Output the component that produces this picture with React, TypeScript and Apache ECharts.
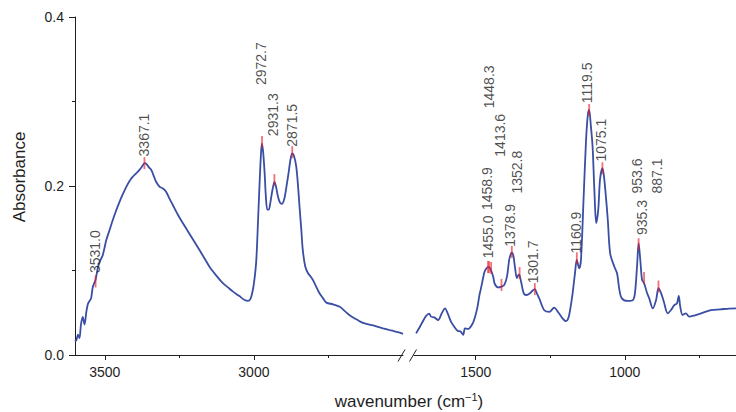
import React, { useEffect, useRef } from "react";
import * as echarts from "echarts";

// ---- spectrum data (wavenumber cm-1, absorbance) ----
const leftWn = [3600, 3595, 3590, 3585, 3580, 3574, 3568, 3562, 3557, 3551, 3546, 3540, 3531, 3523, 3515, 3507, 3495, 3484, 3473, 3462, 3451, 3440, 3428, 3417, 3406, 3395, 3384, 3375, 3367, 3360, 3352, 3344, 3336, 3328, 3316, 3305, 3294, 3283, 3272, 3255, 3238, 3210, 3182, 3165, 3149, 3126, 3104, 3087, 3070, 3050, 3031, 3020, 3012, 3004, 2998, 2992, 2986, 2981, 2976, 2973, 2969, 2964, 2960, 2955, 2950, 2945, 2938, 2931, 2925, 2919, 2912, 2906, 2898, 2891, 2884, 2877, 2871.5, 2866, 2858, 2852, 2847, 2841, 2836, 2828, 2819, 2810, 2802, 2790, 2780, 2768, 2757, 2735, 2712, 2695, 2679, 2655, 2634, 2600, 2567, 2540, 2511, 2500];
const leftAbs = [0.016, 0.018, 0.024, 0.02, 0.036, 0.045, 0.036, 0.051, 0.06, 0.064, 0.067, 0.081, 0.089, 0.104, 0.112, 0.118, 0.136, 0.148, 0.16, 0.171, 0.181, 0.19, 0.199, 0.206, 0.211, 0.215, 0.219, 0.223, 0.227, 0.226, 0.222, 0.219, 0.212, 0.205, 0.199, 0.197, 0.193, 0.185, 0.1775, 0.166, 0.156, 0.14, 0.124, 0.114, 0.1045, 0.094, 0.085, 0.08, 0.075, 0.07, 0.065, 0.064, 0.066, 0.076, 0.09, 0.112, 0.16, 0.203, 0.24, 0.25, 0.24, 0.215, 0.188, 0.172, 0.172, 0.18, 0.195, 0.205, 0.198, 0.187, 0.18, 0.179, 0.185, 0.199, 0.215, 0.232, 0.2385, 0.236, 0.223, 0.2, 0.1755, 0.148, 0.124, 0.105, 0.097, 0.093, 0.0888, 0.08, 0.073, 0.067, 0.062, 0.06, 0.057, 0.052, 0.047, 0.042, 0.038, 0.035, 0.0316, 0.029, 0.0264, 0.025];

const rightWn = [1700, 1690, 1678, 1667, 1656, 1650, 1639, 1626, 1614, 1603, 1594, 1583, 1572, 1561, 1550, 1542, 1536, 1525, 1510, 1502, 1494, 1488, 1483, 1477, 1471, 1465, 1459, 1455, 1451, 1446, 1441, 1436, 1424, 1413.6, 1404, 1395, 1388, 1383, 1379, 1374, 1368, 1362, 1356, 1352.8, 1348, 1339, 1330, 1318, 1310, 1301.7, 1295, 1287, 1270, 1253, 1237, 1222, 1210, 1197, 1190, 1184, 1175, 1167, 1161, 1153, 1147, 1138, 1130, 1124, 1119.5, 1114, 1108, 1102, 1096, 1089, 1083, 1075, 1070, 1064, 1057, 1049, 1035, 1026, 1018, 1010, 990, 973, 966, 959, 953.6, 948, 942, 935.3, 925, 918, 906, 895, 887.1, 878, 869, 856, 845, 834, 825, 819, 814, 806, 795, 784, 765, 744, 711, 680, 650, 627];
const rightAbs = [0.0256, 0.0316, 0.0394, 0.046, 0.049, 0.0454, 0.0446, 0.0414, 0.0493, 0.0552, 0.0493, 0.0394, 0.0335, 0.0288, 0.0276, 0.0237, 0.0316, 0.0308, 0.0375, 0.0454, 0.057, 0.07, 0.078, 0.088, 0.098, 0.102, 0.104, 0.104, 0.102, 0.098, 0.092, 0.084, 0.08, 0.081, 0.083, 0.093, 0.112, 0.119, 0.121, 0.118, 0.103, 0.091, 0.095, 0.094, 0.087, 0.073, 0.071, 0.073, 0.076, 0.078, 0.073, 0.067, 0.053, 0.051, 0.056, 0.05, 0.044, 0.04, 0.043, 0.052, 0.073, 0.097, 0.1124, 0.1026, 0.1124, 0.187, 0.254, 0.284, 0.29, 0.272, 0.2465, 0.195, 0.156, 0.172, 0.208, 0.221, 0.212, 0.19, 0.16, 0.12, 0.1045, 0.0967, 0.077, 0.067, 0.064, 0.065, 0.073, 0.1045, 0.1325, 0.1124, 0.0888, 0.085, 0.073, 0.067, 0.0552, 0.065, 0.079, 0.073, 0.063, 0.0493, 0.0532, 0.059, 0.061, 0.0698, 0.0572, 0.0473, 0.0493, 0.0454, 0.047, 0.0493, 0.0532, 0.054, 0.055, 0.0552];

// ---- peak annotations ----
const leftPeakLabels = ["3531.0", "3367.1", "2972.7", "2931.3", "2871.5"];
const leftPeakWn = [3531.0, 3367.1, 2972.7, 2931.3, 2871.5];
const leftPeakAbs = [0.087, 0.227, 0.252, 0.207, 0.24];
const leftLabelWn = [3534.6, 3370, 2977.7, 2937.5, 2873.4];
const leftLabelAbs = [0.097, 0.235, 0.3195, 0.259, 0.2465];

const rightPeakLabels = ["1455.0", "1458.9", "1448.3", "1413.6", "1378.9", "1352.8", "1301.7", "1160.9", "1119.5", "1075.1", "953.6", "935.3", "887.1"];
const rightPeakWn = [1455.0, 1458.9, 1448.3, 1413.6, 1378.9, 1352.8, 1301.7, 1160.9, 1119.5, 1075.1, 953.6, 935.3, 887.1];
const rightPeakAbs = [0.104, 0.104, 0.103, 0.083, 0.122, 0.097, 0.078, 0.1144, 0.29, 0.221, 0.131, 0.091, 0.081];
const rightLabelWn = [1457.7, 1461, 1455.7, 1418.8, 1385, 1360.4, 1306.7, 1164.8, 1125.5, 1080.9, 957.7, 940.9, 890.6];
const rightLabelAbs = [0.1144, 0.1716, 0.292, 0.2347, 0.128, 0.191, 0.0848, 0.12, 0.298, 0.229, 0.191, 0.142, 0.191];

// ---- axis ticks ----
const leftMajorTicks = [3500, 3000];
const leftMinorTicks = [3250, 2750];
const rightMajorTicks = [1500, 1000];
const rightMinorTicks = [1250, 750];

const FONT = "'Liberation Sans', Arial, Helvetica, sans-serif";
const INK = "#1e1e1e";
const CURVE = "#3a4ea3";
const MARK = "rgba(232, 28, 40, 0.78)";

const zip = (a: number[], b: number[]) => a.map((v, i) => [v, b[i]]);

export default function App() {
  const ref = useRef<HTMLDivElement>(null);
  useEffect(() => {
    if (!ref.current) return;
    const chart = echarts.init(ref.current, null, { renderer: "svg" });

    const xBase = (gridIndex: number, min: number, max: number) => ({
      type: "value",
      gridIndex,
      min,
      max,
      inverse: true,
      position: "bottom",
      splitLine: { show: false },
      axisLine: { show: true, onZero: false, lineStyle: { color: INK, width: 1 } },
    });

    const majorAxis = (gridIndex: number, min: number, max: number, ticks: number[]) => ({
      ...xBase(gridIndex, min, max),
      axisTick: { show: true, length: 5, customValues: ticks, lineStyle: { color: INK, width: 1 } },
      axisLabel: {
        show: true,
        customValues: ticks,
        fontSize: 14,
        color: INK,
        fontFamily: FONT,
        margin: 10,
        formatter: (v: number) => String(Math.round(v)),
      },
    });
    const minorAxis = (gridIndex: number, min: number, max: number, ticks: number[]) => ({
      ...xBase(gridIndex, min, max),
      axisLine: { show: false, onZero: false },
      axisTick: { show: true, length: 3, customValues: ticks, lineStyle: { color: INK, width: 1 } },
      axisLabel: { show: false },
    });

    const labelSeries = (xAxisIndex: number, yAxisIndex: number, wn: number[], ab: number[], texts: string[]) => ({
      type: "scatter",
      xAxisIndex,
      yAxisIndex,
      symbolSize: 1,
      itemStyle: { color: "rgba(0,0,0,0)" },
      z: 5,
      data: wn.map((w, i) => ({ value: [w, ab[i]], name: texts[i] })),
      label: {
        show: true,
        position: "inside",
        rotate: 90,
        align: "left",
        verticalAlign: "middle",
        fontSize: 14,
        fontFamily: FONT,
        color: INK,
        formatter: (p: any) => p.name,
      },
      silent: true,
    });

    const markerSeries = (xAxisIndex: number, yAxisIndex: number, wn: number[], ab: number[]) => ({
      type: "scatter",
      xAxisIndex,
      yAxisIndex,
      symbol: "rect",
      symbolSize: [1.8, 12],
      itemStyle: { color: MARK },
      z: 4,
      data: zip(wn, ab),
      silent: true,
    });

    chart.setOption({
      animation: false,
      textStyle: { fontFamily: FONT },
      grid: [
        { left: 75, top: 17, width: 328, height: 338, containLabel: false },
        { left: 414, top: 17, width: 322, height: 338, containLabel: false },
      ],
      xAxis: [
        majorAxis(0, 2500, 3600, leftMajorTicks),
        minorAxis(0, 2500, 3600, leftMinorTicks),
        majorAxis(1, 627, 1707, rightMajorTicks),
        minorAxis(1, 627, 1707, rightMinorTicks),
      ],
      yAxis: [
        {
          type: "value",
          gridIndex: 0,
          min: 0,
          max: 0.4,
          interval: 0.2,
          axisLine: { show: true, lineStyle: { color: INK, width: 1 } },
          axisTick: { show: true, length: 6, lineStyle: { color: INK, width: 1 } },
          minorTick: { show: true, splitNumber: 2, length: 3, lineStyle: { color: INK, width: 1 } },
          axisLabel: { fontSize: 14, color: INK, fontFamily: FONT, margin: 11, formatter: (v: number) => v.toFixed(1) },
          splitLine: { show: false },
          minorSplitLine: { show: false },
        },
        { type: "value", gridIndex: 1, min: 0, max: 0.4, show: false },
      ],
      series: [
        {
          type: "line",
          xAxisIndex: 0,
          yAxisIndex: 0,
          data: zip(leftWn, leftAbs),
          showSymbol: false,
          smooth: 0.3,
          lineStyle: { color: CURVE, width: 1.8 },
          z: 3,
          silent: true,
        },
        {
          type: "line",
          xAxisIndex: 2,
          yAxisIndex: 1,
          data: zip(rightWn, rightAbs),
          showSymbol: false,
          smooth: 0.3,
          lineStyle: { color: CURVE, width: 1.8 },
          z: 3,
          silent: true,
        },
        markerSeries(0, 0, leftPeakWn, leftPeakAbs),
        markerSeries(2, 1, rightPeakWn, rightPeakAbs),
        labelSeries(0, 0, leftLabelWn, leftLabelAbs, leftPeakLabels),
        labelSeries(2, 1, rightLabelWn, rightLabelAbs, rightPeakLabels),
      ],
      graphic: [
        { type: "line", shape: { x1: 398, y1: 361.5, x2: 405, y2: 349.5 }, style: { stroke: INK, lineWidth: 1 } },
        { type: "line", shape: { x1: 409.5, y1: 361.5, x2: 416.5, y2: 349.5 }, style: { stroke: INK, lineWidth: 1 } },
        {
          type: "text",
          x: 19,
          y: 177,
          rotation: Math.PI / 2,
          style: {
            text: "Absorbance",
            fontSize: 17,
            fontFamily: FONT,
            fill: INK,
            align: "center",
            verticalAlign: "middle",
          },
        },
        {
          type: "text",
          x: 409,
          y: 401,
          style: {
            text: "{a|wavenumber (cm}{s|−1}{a|)}",
            align: "center",
            verticalAlign: "middle",
            fill: INK,
            fontFamily: FONT,
            rich: {
              a: { fontSize: 17, fontFamily: FONT, fill: INK, lineHeight: 20 },
              s: { fontSize: 11, fontFamily: FONT, fill: INK, verticalAlign: "top", lineHeight: 12 },
            },
          },
        },
      ],
    });
    return () => chart.dispose();
  }, []);

  return (
    <div
      ref={ref}
      style={{ position: "fixed", left: 0, top: 0, width: 736, height: 412, background: "#fff" }}
    />
  );
}
